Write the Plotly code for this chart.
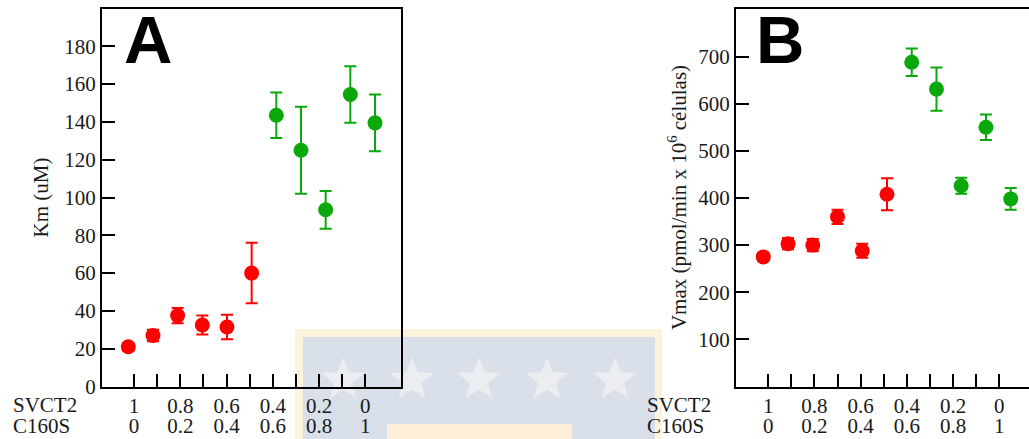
import math
import plotly.graph_objects as go

# --- data -------------------------------------------------------------
# SVCT2 : C160S transfection ratio (SVCT2 fraction), one point per ratio
svct2_frac = [1.0, 0.9, 0.8, 0.7, 0.6, 0.5, 0.4, 0.3, 0.2, 0.1, 0.0]
groups = ["red", "red", "red", "red", "red", "red",
          "green", "green", "green", "green", "green"]

km_values = [21, 27, 37.5, 32.5, 31.5, 60, 143.5, 125, 93.5, 154.5, 139.5]
km_errors = [2, 3, 4, 5, 6.5, 16, 12, 23, 10, 15, 15]

vmax_values = [275, 303, 300, 360, 288, 408, 688, 631, 426, 550, 398]
vmax_errors = [8, 12, 13, 15, 15, 34, 29, 46, 17, 27, 23]

# tick labels under the x axis
tick_vals = [1.0, 0.9, 0.8, 0.7, 0.6, 0.5, 0.4, 0.3, 0.2, 0.1, 0.0]
svct2_text = ["1", " ", "0.8", " ", "0.6", " ", "0.4", " ", "0.2", " ", "0"]
c160s_text = ["0", " ", "0.2", " ", "0.4", " ", "0.6", " ", "0.8", " ", "1"]

colors = {"red": "#ff0000", "green": "#0aa80a"}

# --- layout helpers ----------------------------------------------------
W, H = 1029, 439
SERIF = "Liberation Serif, Times New Roman, serif"
SANS = "Liberation Sans, Arial, sans-serif"
FS = 21


def px_x(p):
    return p / W


def px_y(p):
    return 1 - p / H


fig = go.Figure()


def add_series(values, errors, xa, ya):
    for g in ("red", "green"):
        idx = [i for i, c in enumerate(groups) if c == g]
        fig.add_trace(go.Scatter(
            x=[svct2_frac[i] for i in idx],
            y=[values[i] for i in idx],
            error_y=dict(type="data", array=[errors[i] for i in idx],
                         color=colors[g], thickness=2, width=6),
            mode="markers",
            marker=dict(color=colors[g], size=15, line=dict(width=0)),
            xaxis=xa, yaxis=ya, showlegend=False, cliponaxis=False,
        ))


add_series(km_values, km_errors, "x", "y")
add_series(vmax_values, vmax_errors, "x4", "y2")

# invisible carriers so the tick/label axes are drawn
for xa, ya in (("x2", "y"), ("x3", "y"), ("x5", "y2"), ("x6", "y2")):
    fig.add_trace(go.Scatter(x=[], y=[], xaxis=xa, yaxis=ya,
                             showlegend=False, hoverinfo="skip"))

ybot, ytop = 386.5, 8.5
dom_y = [px_y(ybot), px_y(ytop)]
domA = [px_x(102), px_x(401)]
domB = [px_x(736), 1.0]

tickfont = dict(family=SERIF, size=FS, color="#1a1a1a")

data_axis = dict(showline=False, showticklabels=False, ticks="",
                 showgrid=False, zeroline=False, automargin=False)

tick_axis = dict(tickmode="array", tickvals=tick_vals, ticktext=svct2_text,
                 ticks="inside", ticklen=13, tickwidth=2, tickcolor="black",
                 showline=True, linewidth=2, linecolor="black", mirror=True,
                 showgrid=False, zeroline=False, tickfont=tickfont,
                 ticklabelstandoff=-1, automargin=False)

label_axis = dict(tickmode="array", tickvals=tick_vals, ticktext=c160s_text,
                  ticks="inside", ticklen=13, tickwidth=2,
                  tickcolor="rgba(0,0,0,0)", showline=False, showgrid=False,
                  zeroline=False, tickfont=tickfont, ticklabelstandoff=24,
                  automargin=False)

fig.update_layout(
    width=W, height=H,
    margin=dict(l=0, r=0, t=0, b=0, pad=0),
    paper_bgcolor="white", plot_bgcolor="rgba(0,0,0,0)",
    # panel A
    xaxis=dict(domain=domA, range=[1.1066, -0.1054], anchor="y", **data_axis),
    xaxis2=dict(domain=domA, range=[1.1383, -0.1543], anchor="y",
                overlaying="x", **tick_axis),
    xaxis3=dict(domain=domA, range=[1.1383, -0.1543], anchor="y",
                overlaying="x", **label_axis),
    yaxis=dict(domain=dom_y, range=[0, 200], anchor="x",
               tickmode="array", tickvals=list(range(0, 181, 20)),
               ticks="inside", ticklen=13, tickwidth=2, tickcolor="black",
               showline=True, linewidth=2, linecolor="black", mirror=True,
               showgrid=False, zeroline=False, tickfont=tickfont,
               automargin=False,
               title=dict(text="Km (uM)", font=dict(family=SERIF, size=FS,
                                                    color="#1a1a1a"),
                          standoff=10)),
    # panel B
    xaxis4=dict(domain=domB, range=[1.1103, -0.0740], anchor="y2", **data_axis),
    xaxis5=dict(domain=domB, range=[1.1398, -0.1286], anchor="y2",
                overlaying="x4", **tick_axis),
    xaxis6=dict(domain=domB, range=[1.1398, -0.1286], anchor="y2",
                overlaying="x4", **label_axis),
    yaxis2=dict(domain=dom_y, range=[0, 802], anchor="x4",
                tickmode="array", tickvals=list(range(100, 701, 100)),
                ticks="inside", ticklen=13, tickwidth=2, tickcolor="black",
                showline=True, linewidth=2, linecolor="black", mirror=False,
                showgrid=False, zeroline=False, tickfont=tickfont,
                automargin=False,
                title=dict(text="Vmax (pmol/min x 10<sup>6</sup> células)",
                           font=dict(family=SERIF, size=FS, color="#1a1a1a"),
                           standoff=6)),
)

# panel letters and row captions
annotations = [
    dict(text="<b>A</b>", x=px_x(147.5), y=px_y(39), xref="paper",
         yref="paper", showarrow=False, xanchor="center", yanchor="middle",
         font=dict(family=SANS, size=67, color="black")),
    dict(text="<b>B</b>", x=px_x(780), y=px_y(39), xref="paper",
         yref="paper", showarrow=False, xanchor="center", yanchor="middle",
         font=dict(family=SANS, size=67, color="black")),
]
for left in (12, 646):
    annotations.append(dict(
        text="SVCT2", x=px_x(left), y=px_y(405), xref="paper", yref="paper",
        showarrow=False, xanchor="left", yanchor="middle", borderpad=0,
        font=dict(family=SERIF, size=FS, color="#1a1a1a")))
    annotations.append(dict(
        text="C160S", x=px_x(left), y=px_y(H), xref="paper", yref="paper",
        showarrow=False, xanchor="left", yanchor="bottom", borderpad=0,
        font=dict(family=SERIF, size=FS, color="#1a1a1a")))
fig.update_layout(annotations=annotations)


# faint background emblem
def rect(x0, y0, x1, y1, color):
    return dict(type="rect", xref="paper", yref="paper", layer="below",
                x0=px_x(x0), x1=px_x(x1), y0=px_y(y1), y1=px_y(y0),
                fillcolor=color, line=dict(width=0))


def star(cx, cy, r_out, r_in, color):
    pts = []
    for k in range(10):
        r = r_out if k % 2 == 0 else r_in
        a = -math.pi / 2 + k * math.pi / 5
        pts.append((px_x(cx + r * math.cos(a)), px_y(cy + r * math.sin(a))))
    path = "M " + " L ".join(f"{x:.5f},{y:.5f}" for x, y in pts) + " Z"
    return dict(type="path", xref="paper", yref="paper", layer="below",
                path=path, fillcolor=color, line=dict(width=0))


shapes = [
    rect(295, 329, 662, 439, "#fdf3dd"),
    rect(303, 337, 655, 439, "#d9e0ea"),
    rect(387, 424, 572, 439, "#fdeed8"),
]
for cx in (343, 412, 479, 547, 615):
    shapes.append(star(cx, 380, 23, 9.5, "#ebedf0"))
fig.update_layout(shapes=shapes)

fig.write_html("out.html")
